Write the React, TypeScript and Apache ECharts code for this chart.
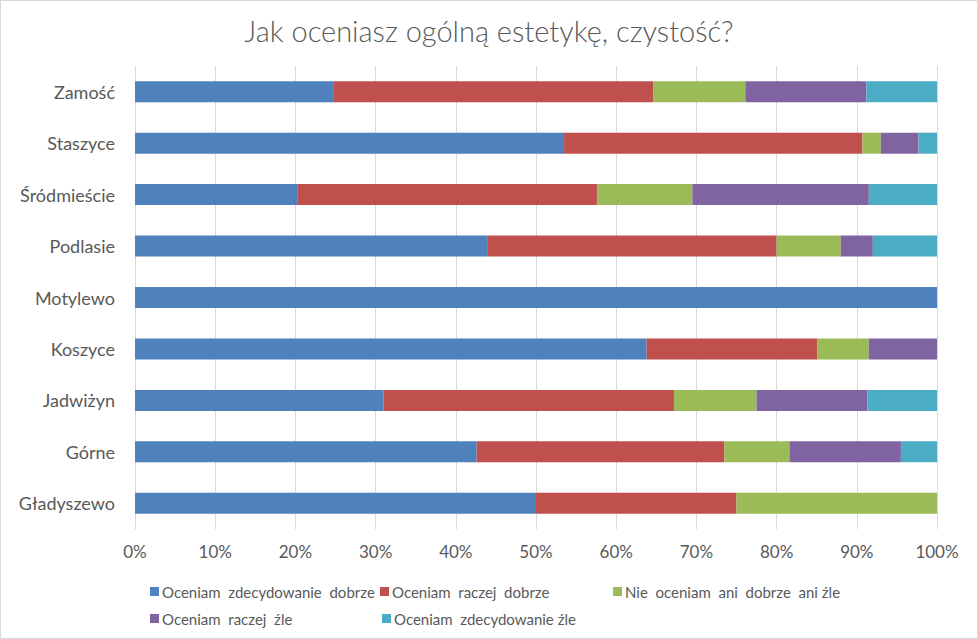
import React, { useEffect, useRef } from "react";
import * as echarts from "echarts";

const titleText = "Jak oceniasz ogólną estetykę, czystość?";
const categories = ["Zamość", "Staszyce", "Śródmieście", "Podlasie", "Motylewo", "Koszyce", "Jadwiżyn", "Górne", "Gładyszewo"];
const seriesNames = [
  "Oceniam  zdecydowanie  dobrze",
  "Oceniam  raczej  dobrze",
  "Nie  oceniam  ani  dobrze  ani źle",
  "Oceniam  raczej  źle",
  "Oceniam  zdecydowanie źle",
];
const zdecDobrze = [24.8, 53.5, 20.3, 44, 100, 63.8, 31.0, 42.6, 50];
const raczejDobrze = [39.8, 37.2, 37.3, 36, 0, 21.3, 36.2, 30.9, 25];
const aniAni = [11.5, 2.3, 11.9, 8, 0, 6.4, 10.3, 8.1, 25];
const raczejZle = [15.1, 4.7, 22.0, 4, 0, 8.5, 13.8, 13.9, 0];
const zdecZle = [8.8, 2.3, 8.5, 8, 0, 0, 8.7, 4.5, 0];
const seriesValues = [zdecDobrze, raczejDobrze, aniAni, raczejZle, zdecZle];
const colors = ["#4F81BD", "#C0504D", "#9BBB59", "#8064A2", "#4BACC6"];
const legendPos = [
  { left: 144, top: 578 },
  { left: 374, top: 578 },
  { left: 607, top: 578 },
  { left: 144, top: 605 },
  { left: 376, top: 605 },
];

const FONT = "Lato, 'Open Sans', sans-serif";

export default function App() {
  const ref = useRef<HTMLDivElement>(null);
  useEffect(() => {
    document.body.style.margin = "0";
    const chart = echarts.init(ref.current!, undefined, { renderer: "svg" });
    chart.setOption({
      animation: false,
      backgroundColor: "#ffffff",
      color: colors,
      title: {
        text: titleText,
        left: "center",
        top: 10,
        textStyle: { fontFamily: FONT, fontSize: 29, fontWeight: 300, color: "#595959" },
      },
      legend: seriesNames.map((n, i) => ({
        data: [n],
        left: legendPos[i].left,
        top: legendPos[i].top,
        itemWidth: 9,
        itemHeight: 9,
        icon: "rect",
        itemGap: 0,
        selectedMode: false,
        textStyle: { fontFamily: FONT, fontSize: 15, color: "#595959", padding: [0, 0, 0, -2] },
      })),
      grid: { left: 134, right: 40, top: 65, height: 463, containLabel: false },
      xAxis: {
        type: "value",
        min: 0,
        max: 100,
        interval: 10,
        axisLabel: { formatter: "{value}%", fontFamily: FONT, fontSize: 17, color: "#595959", margin: 14 },
        splitLine: { show: true, lineStyle: { color: "#D9D9D9", width: 1 } },
        axisLine: { show: false },
        axisTick: { show: false },
      },
      yAxis: {
        type: "category",
        data: categories,
        inverse: true,
        axisLabel: { fontFamily: FONT, fontSize: 18, color: "#595959", margin: 20 },
        axisLine: { show: true, lineStyle: { color: "#D9D9D9" } },
        axisTick: { show: false },
      },
      series: seriesNames.map((n, i) => ({
        name: n,
        type: "bar",
        stack: "total",
        data: seriesValues[i],
        barWidth: 21,
        itemStyle: { color: colors[i] },
      })),
    });
    return () => chart.dispose();
  }, []);
  return (
    <div
      ref={ref}
      style={{ width: 978, height: 639, boxSizing: "border-box", border: "1px solid #D9D9D9" }}
    />
  );
}
